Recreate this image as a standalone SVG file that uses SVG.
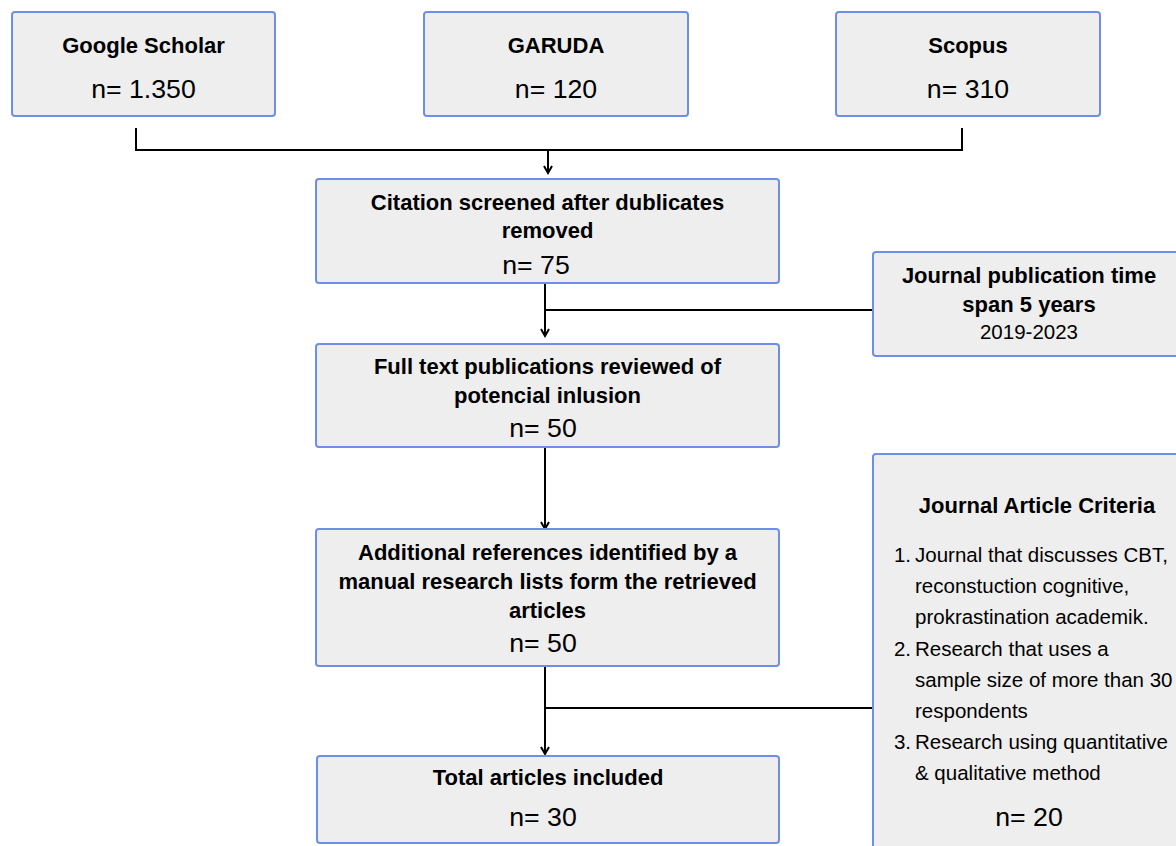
<svg xmlns="http://www.w3.org/2000/svg" width="1176" height="846" viewBox="0 0 1176 846">
<style>
.box{fill:#eeeeee;stroke:#6d8fe6;stroke-width:2}
.t{font-family:"Liberation Sans",Arial,sans-serif;font-weight:bold;font-size:22px;fill:#000;text-anchor:middle}
.n{font-family:"Liberation Sans",Arial,sans-serif;font-size:26.7px;fill:#000;text-anchor:middle}
.r{font-family:"Liberation Sans",Arial,sans-serif;font-size:20.5px;fill:#000}
.c{fill:none;stroke:#000;stroke-width:2}
</style>
<defs>
<marker id="ah" markerWidth="12" markerHeight="12" refX="10" refY="6" orient="auto" markerUnits="userSpaceOnUse">
<path d="M3,2 L10,6 L3,10" fill="none" stroke="#000" stroke-width="2"/>
</marker>
</defs>
<rect width="1176" height="846" fill="#ffffff"/>
<g id="connectors">
<path class="c" d="M136,128 V150 H962 V128"/>
<path class="c" d="M548,150 V173" marker-end="url(#ah)"/>
<path class="c" d="M545,283 V336" marker-end="url(#ah)"/>
<path class="c" d="M545,310 H873"/>
<path class="c" d="M545,447 V529" marker-end="url(#ah)"/>
<path class="c" d="M545,666 V754" marker-end="url(#ah)"/>
<path class="c" d="M545,708 H873"/>
</g>
<g id="google-scholar">
<rect class="box" x="12" y="12" width="263" height="104" rx="3"/>
<text class="t" x="143.5" y="53">Google Scholar</text>
<text class="n" x="143.5" y="98">n= 1.350</text>
</g>
<g id="garuda">
<rect class="box" x="424" y="12" width="264" height="104" rx="3"/>
<text class="t" x="556" y="53">GARUDA</text>
<text class="n" x="556" y="98">n= 120</text>
</g>
<g id="scopus">
<rect class="box" x="836" y="12" width="264" height="104" rx="3"/>
<text class="t" x="968" y="53">Scopus</text>
<text class="n" x="968" y="98">n= 310</text>
</g>
<g id="citation">
<rect class="box" x="316" y="179" width="463" height="104" rx="3"/>
<text class="t" x="547.5" y="210">Citation screened after dublicates</text>
<text class="t" x="547.5" y="238">removed</text>
<text class="n" x="536" y="274">n= 75</text>
</g>
<g id="journal-time">
<rect class="box" x="873" y="252" width="312" height="104" rx="3"/>
<text class="t" x="1029" y="283">Journal publication time</text>
<text class="t" x="1029" y="312">span 5 years</text>
<text class="r" x="1029" y="339" text-anchor="middle">2019-2023</text>
</g>
<g id="fulltext">
<rect class="box" x="316" y="344" width="463" height="103" rx="3"/>
<text class="t" x="547.5" y="374">Full text publications reviewed of</text>
<text class="t" x="547.5" y="403">potencial inlusion</text>
<text class="n" x="543" y="437">n= 50</text>
</g>
<g id="additional">
<rect class="box" x="316" y="529" width="463" height="137" rx="3"/>
<text class="t" x="547.5" y="560">Additional references identified by a</text>
<text class="t" x="547.5" y="589">manual research lists form the retrieved</text>
<text class="t" x="547.5" y="618">articles</text>
<text class="n" x="543" y="652">n= 50</text>
</g>
<g id="total">
<rect class="box" x="317" y="756" width="462" height="87" rx="3"/>
<text class="t" x="548" y="785">Total articles included</text>
<text class="n" x="543" y="826">n= 30</text>
</g>
<g id="criteria">
<rect class="box" x="873" y="454" width="340" height="420" rx="3"/>
<text class="t" x="1037" y="513">Journal Article Criteria</text>
<g class="r">
<text x="911" y="562" text-anchor="end">1.</text>
<text x="915" y="562">Journal that discusses CBT,</text>
<text x="915" y="593">reconstuction cognitive,</text>
<text x="915" y="624">prokrastination academik.</text>
<text x="911" y="656" text-anchor="end">2.</text>
<text x="915" y="656">Research that uses a</text>
<text x="915" y="687">sample size of more than 30</text>
<text x="915" y="718">respondents</text>
<text x="911" y="749" text-anchor="end">3.</text>
<text x="915" y="749">Research using quantitative</text>
<text x="915" y="780">&amp; qualitative method</text>
</g>
<text class="n" x="1029" y="826">n= 20</text>
</g>
</svg>
